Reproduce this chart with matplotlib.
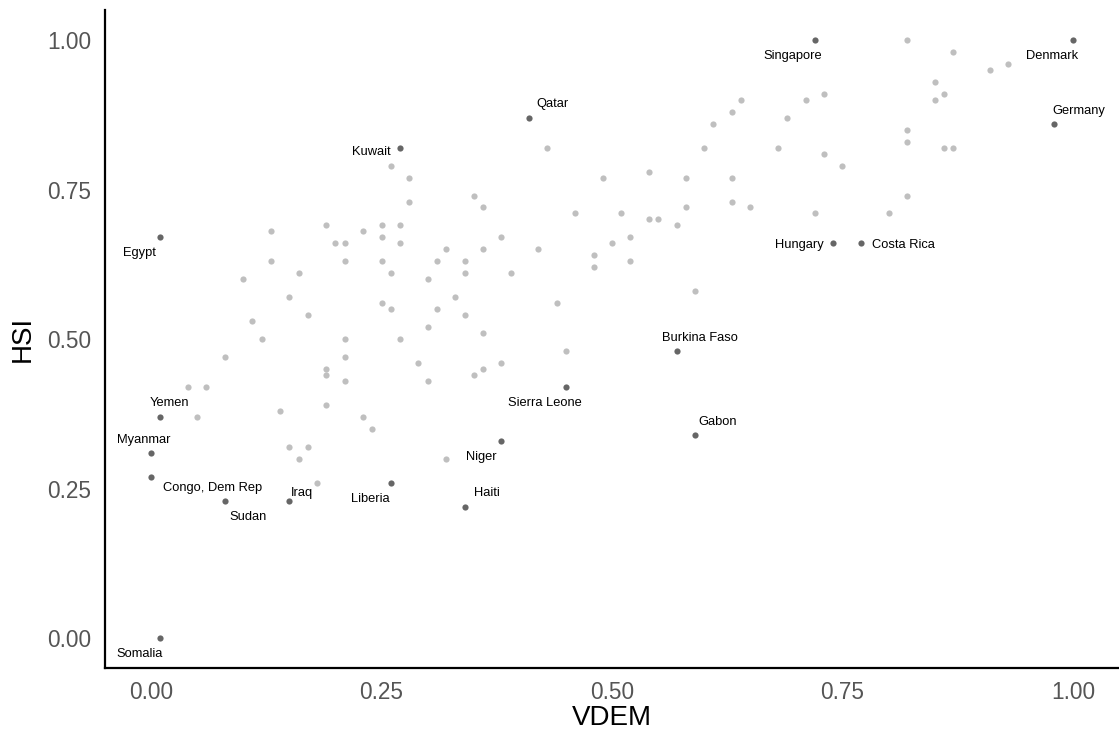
import matplotlib
matplotlib.use("Agg")
import matplotlib.pyplot as plt

# Background countries (unlabelled)
bg_vdem = [0.82, 0.87, 0.93, 0.91, 0.85, 0.86, 0.85, 0.82, 0.82, 0.86, 0.87, 0.82, 0.80,
           0.73, 0.73, 0.75, 0.43, 0.64, 0.71, 0.63, 0.69, 0.61, 0.60, 0.68, 0.54, 0.49,
           0.58, 0.63, 0.35, 0.36, 0.63, 0.65, 0.58, 0.46, 0.51, 0.72, 0.54, 0.55, 0.57,
           0.38, 0.52, 0.36, 0.42, 0.50, 0.48, 0.52, 0.34, 0.48, 0.34, 0.39,
           0.26, 0.28, 0.28, 0.19, 0.25, 0.27, 0.13, 0.23, 0.25, 0.20, 0.21, 0.27, 0.32,
           0.13, 0.21, 0.25, 0.31, 0.16, 0.26, 0.10, 0.30,
           0.15, 0.33, 0.25, 0.26, 0.31, 0.17, 0.34, 0.11, 0.30, 0.12, 0.21, 0.27, 0.08,
           0.21, 0.29, 0.19, 0.19, 0.21, 0.30, 0.35, 0.04, 0.06, 0.05, 0.19, 0.14, 0.23,
           0.24, 0.15, 0.17, 0.16, 0.32, 0.18,
           0.59, 0.44, 0.36, 0.45, 0.38, 0.36]
bg_hsi = [1.00, 0.98, 0.96, 0.95, 0.93, 0.91, 0.90, 0.85, 0.83, 0.82, 0.82, 0.74, 0.71,
          0.91, 0.81, 0.79, 0.82, 0.90, 0.90, 0.88, 0.87, 0.86, 0.82, 0.82, 0.78, 0.77,
          0.77, 0.77, 0.74, 0.72, 0.73, 0.72, 0.72, 0.71, 0.71, 0.71, 0.70, 0.70, 0.69,
          0.67, 0.67, 0.65, 0.65, 0.66, 0.64, 0.63, 0.63, 0.62, 0.61, 0.61,
          0.79, 0.77, 0.73, 0.69, 0.69, 0.69, 0.68, 0.68, 0.67, 0.66, 0.66, 0.66, 0.65,
          0.63, 0.63, 0.63, 0.63, 0.61, 0.61, 0.60, 0.60,
          0.57, 0.57, 0.56, 0.55, 0.55, 0.54, 0.54, 0.53, 0.52, 0.50, 0.50, 0.50, 0.47,
          0.47, 0.46, 0.45, 0.44, 0.43, 0.43, 0.44, 0.42, 0.42, 0.37, 0.39, 0.38, 0.37,
          0.35, 0.32, 0.32, 0.30, 0.30, 0.26,
          0.58, 0.56, 0.51, 0.48, 0.46, 0.45]

# Highlighted countries
countries = ["Singapore", "Denmark", "Germany", "Qatar", "Kuwait", "Egypt", "Hungary",
             "Costa Rica", "Burkina Faso", "Sierra Leone", "Gabon", "Niger", "Haiti",
             "Yemen", "Myanmar", "Congo, Dem Rep", "Iraq", "Liberia", "Sudan", "Somalia"]
hl_vdem = [0.72, 1.00, 0.98, 0.41, 0.27, 0.01, 0.74, 0.77, 0.57, 0.45, 0.59, 0.38, 0.34,
           0.01, 0.00, 0.00, 0.15, 0.26, 0.08, 0.01]
hl_hsi = [1.00, 1.00, 0.86, 0.87, 0.82, 0.67, 0.66, 0.66, 0.48, 0.42, 0.34, 0.33, 0.22,
          0.37, 0.31, 0.27, 0.23, 0.26, 0.23, 0.00]

# Label offsets (pixels, x right / y up) and alignment for each highlighted country
label_offsets = {
    "Singapore": (-21.6, -14.3, "center"),
    "Denmark": (-20.7, -14.3, "center"),
    "Germany": (24.0, 15.0, "center"),
    "Qatar": (23.7, 15.4, "center"),
    "Kuwait": (-9.5, -2.3, "right"),
    "Egypt": (-21.3, -14.0, "center"),
    "Hungary": (-9.7, 0.0, "right"),
    "Costa Rica": (11.0, 0.3, "left"),
    "Burkina Faso": (23.4, 15.0, "center"),
    "Sierra Leone": (-20.7, -14.0, "center"),
    "Gabon": (22.7, 15.0, "center"),
    "Niger": (-20.3, -14.0, "center"),
    "Haiti": (22.7, 15.4, "center"),
    "Yemen": (9.3, 16.0, "center"),
    "Myanmar": (-7.5, 14.7, "center"),
    "Congo, Dem Rep": (61.5, -9.0, "center"),
    "Iraq": (12.4, 9.4, "center"),
    "Liberia": (-20.0, -14.0, "center"),
    "Sudan": (23.7, -14.3, "center"),
    "Somalia": (-20.3, -14.0, "center"),
}
LABEL_DROP = 2.0  # nudges the label text down to sit on its visual centre

plt.rcParams["font.family"] = ["Liberation Sans", "DejaVu Sans"]

DPI = 100
fig = plt.figure(figsize=(11.19, 7.40), dpi=DPI)
ax = fig.add_axes([105 / 1119, 71.7 / 740, 1014 / 1119, 658.3 / 740])

ax.scatter(bg_vdem, bg_hsi, s=20, color="#bfbfbf", linewidths=0, zorder=2)
ax.scatter(hl_vdem, hl_hsi, s=20, color="#666666", linewidths=0, zorder=3)

px2pt = 72 / DPI
for name, x, y in zip(countries, hl_vdem, hl_hsi):
    dx, dy, ha = label_offsets[name]
    ax.annotate(name, (x, y), xytext=(dx * px2pt, (dy - LABEL_DROP) * px2pt),
                textcoords="offset points", ha=ha, va="center", fontsize=9.3,
                color="black", zorder=4)

ax.set_xlim(-0.05, 1.05)
ax.set_ylim(-0.05, 1.05)
ticks = [0.0, 0.25, 0.5, 0.75, 1.0]
tick_labels = ["0.00", "0.25", "0.50", "0.75", "1.00"]
ax.set_xticks(ticks)
ax.set_xticklabels(tick_labels)
ax.set_yticks(ticks)
ax.set_yticklabels(tick_labels)
ax.tick_params(axis="both", length=0, labelsize=16.3, labelcolor="#555555")
ax.tick_params(axis="x", pad=9)
ax.tick_params(axis="y", pad=10)

for side in ["top", "right"]:
    ax.spines[side].set_visible(False)
for side in ["left", "bottom"]:
    ax.spines[side].set_linewidth(1.6)
    ax.spines[side].set_color("black")

ax.set_xlabel("VDEM", fontsize=20, color="black", va="center")
ax.xaxis.set_label_coords(0.5, -0.0755)
ax.set_ylabel("HSI", fontsize=20, color="black", va="center")
ax.yaxis.set_label_coords(-0.0814, 0.5)

fig.savefig("out.png", dpi=DPI)
